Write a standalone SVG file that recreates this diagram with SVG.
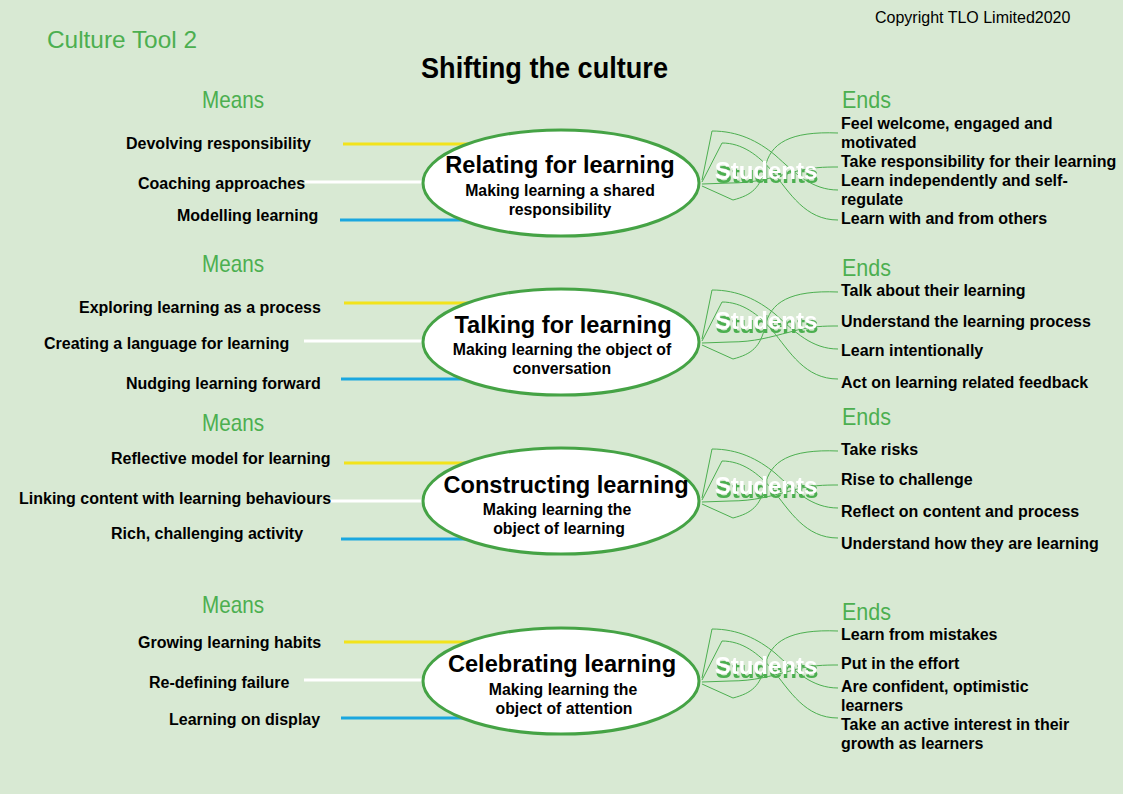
<svg xmlns="http://www.w3.org/2000/svg" width="1123" height="794" viewBox="0 0 1123 794">
<defs>
<style>
.bg{fill:#d8e9d3}
.lbl{font-family:"Liberation Sans",Arial,sans-serif;font-weight:bold;font-size:16px;fill:#000}
.grn{font-family:"Liberation Sans",Arial,sans-serif;font-size:24px;fill:#4caf50}
.ttl{font-family:"Liberation Sans",Arial,sans-serif;font-weight:bold;font-size:23.6px;fill:#000;text-anchor:middle}
.sub{font-family:"Liberation Sans",Arial,sans-serif;font-weight:bold;font-size:15.8px;fill:#000;text-anchor:middle}
.ell{fill:#fff;stroke:#45a345;stroke-width:3}
.yl{stroke:#f2e31b;stroke-width:3}
.wl{stroke:#ffffff;stroke-width:3}
.bl{stroke:#1aa7df;stroke-width:3}
.cv{fill:none;stroke:#4caf50;stroke-width:1}
.stu{font-family:"Liberation Sans",Arial,sans-serif;font-weight:bold;font-size:24px;text-anchor:middle;fill:#fff;filter:url(#sh)}
</style>
<filter id="sh" x="-10%" y="-20%" width="130%" height="160%">
<feDropShadow dx="1" dy="4" stdDeviation="0.3" flood-color="#4caf50" flood-opacity="1"/>
</filter>
<g id="curves">
<path class="cv" d="M702,-3 L712,-52 C738,-52 758,-42 775,-28 C795,-10 812,7 838,7"/>
<path class="cv" d="M702,-1 L722,-40 C742,-40 758,-28 772,-12 C790,10 805,37 838,37"/>
<path class="cv" d="M702,1 L730,0 C755,0 770,-5 790,-10 C810,-16 825,-16 838,-16"/>
<path class="cv" d="M702,3 L733,17 C752,12 760,5 765,-15 C770,-40 790,-52 838,-50"/>
</g>
</defs>
<rect class="bg" x="0" y="0" width="1123" height="794"/>

<g id="header">
<text class="grn" x="47" y="48" textLength="150" lengthAdjust="spacingAndGlyphs">Culture Tool 2</text>
<text x="421" y="78" font-family="Liberation Sans, Arial, sans-serif" font-weight="bold" font-size="29" textLength="247" lengthAdjust="spacingAndGlyphs">Shifting the culture</text>
<text x="875" y="23" font-family="Liberation Sans, Arial, sans-serif" font-size="16" fill="#000">Copyright TLO Limited2020</text>
</g>

<g id="connectors">
<line class="yl" x1="343" y1="144" x2="500" y2="144"/>
<line class="wl" x1="305" y1="182" x2="480" y2="182"/>
<line class="bl" x1="340" y1="220" x2="500" y2="220"/>
<line class="yl" x1="344" y1="303" x2="500" y2="303"/>
<line class="wl" x1="304" y1="341" x2="480" y2="341"/>
<line class="bl" x1="341" y1="379" x2="500" y2="379"/>
<line class="yl" x1="344" y1="463" x2="500" y2="463"/>
<line class="wl" x1="330" y1="501" x2="480" y2="501"/>
<line class="bl" x1="341" y1="539" x2="500" y2="539"/>
<line class="yl" x1="344" y1="642" x2="500" y2="642"/>
<line class="wl" x1="304" y1="680" x2="480" y2="680"/>
<line class="bl" x1="341" y1="718" x2="500" y2="718"/>
<use href="#curves" transform="translate(0,183)"/>
<use href="#curves" transform="translate(0,342)"/>
<use href="#curves" transform="translate(0,501)"/>
<use href="#curves" transform="translate(0,681)"/>
</g>

<g id="node-relating">
<ellipse class="ell" cx="561" cy="183" rx="138" ry="53"/>
<text class="ttl" x="560" y="173">Relating for learning</text>
<text class="sub" x="560" y="196">Making learning a shared</text>
<text class="sub" x="560" y="215">responsibility</text>
</g>
<g id="node-talking">
<ellipse class="ell" cx="561" cy="342" rx="138" ry="53"/>
<text class="ttl" x="563" y="333">Talking for learning</text>
<text class="sub" x="562" y="355">Making learning the object of</text>
<text class="sub" x="562" y="374">conversation</text>
</g>
<g id="node-constructing">
<ellipse class="ell" cx="561" cy="501" rx="138" ry="53"/>
<text class="ttl" x="566" y="493">Constructing learning</text>
<text class="sub" x="557" y="515">Making learning the</text>
<text class="sub" x="559" y="534">object of learning</text>
</g>
<g id="node-celebrating">
<ellipse class="ell" cx="561" cy="681" rx="138" ry="53"/>
<text class="ttl" x="562" y="672">Celebrating learning</text>
<text class="sub" x="563" y="695">Making learning the</text>
<text class="sub" x="564" y="714">object of attention</text>
</g>

<g id="students-1"><text class="stu" x="766" y="179">Students</text></g>
<g id="students-2"><text class="stu" x="766" y="329">Students</text></g>
<g id="students-3"><text class="stu" x="766" y="494">Students</text></g>
<g id="students-4"><text class="stu" x="766" y="674">Students</text></g>

<g id="means-1">
<text class="grn" x="202" y="108" textLength="62" lengthAdjust="spacingAndGlyphs">Means</text>
<text class="lbl" x="126" y="149">Devolving responsibility</text>
<text class="lbl" x="138" y="189">Coaching approaches</text>
<text class="lbl" x="177" y="221">Modelling learning</text>
</g>
<g id="means-2">
<text class="grn" x="202" y="272" textLength="62" lengthAdjust="spacingAndGlyphs">Means</text>
<text class="lbl" x="79" y="313">Exploring learning as a process</text>
<text class="lbl" x="44" y="349">Creating a language for learning</text>
<text class="lbl" x="126" y="389">Nudging learning forward</text>
</g>
<g id="means-3">
<text class="grn" x="202" y="431" textLength="62" lengthAdjust="spacingAndGlyphs">Means</text>
<text class="lbl" x="111" y="464">Reflective model for learning</text>
<text class="lbl" x="19" y="504">Linking content with learning behaviours</text>
<text class="lbl" x="111" y="539">Rich, challenging activity</text>
</g>
<g id="means-4">
<text class="grn" x="202" y="613" textLength="62" lengthAdjust="spacingAndGlyphs">Means</text>
<text class="lbl" x="138" y="648">Growing learning habits</text>
<text class="lbl" x="149" y="688">Re-defining failure</text>
<text class="lbl" x="169" y="725">Learning on display</text>
</g>

<g id="ends-1">
<text class="grn" x="842" y="108" textLength="49" lengthAdjust="spacingAndGlyphs">Ends</text>
<text class="lbl" x="841" y="129">Feel welcome, engaged and</text>
<text class="lbl" x="841" y="148">motivated</text>
<text class="lbl" x="841" y="167">Take responsibility for their learning</text>
<text class="lbl" x="841" y="186">Learn independently and self-</text>
<text class="lbl" x="841" y="205">regulate</text>
<text class="lbl" x="841" y="224">Learn with and from others</text>
</g>
<g id="ends-2">
<text class="grn" x="842" y="276" textLength="49" lengthAdjust="spacingAndGlyphs">Ends</text>
<text class="lbl" x="841" y="296">Talk about their learning</text>
<text class="lbl" x="841" y="327">Understand the learning process</text>
<text class="lbl" x="841" y="356">Learn intentionally</text>
<text class="lbl" x="841" y="388">Act on learning related feedback</text>
</g>
<g id="ends-3">
<text class="grn" x="842" y="425" textLength="49" lengthAdjust="spacingAndGlyphs">Ends</text>
<text class="lbl" x="841" y="455">Take risks</text>
<text class="lbl" x="841" y="485">Rise to challenge</text>
<text class="lbl" x="841" y="517">Reflect on content and process</text>
<text class="lbl" x="841" y="549">Understand how they are learning</text>
</g>
<g id="ends-4">
<text class="grn" x="842" y="620" textLength="49" lengthAdjust="spacingAndGlyphs">Ends</text>
<text class="lbl" x="841" y="640">Learn from mistakes</text>
<text class="lbl" x="841" y="669">Put in the effort</text>
<text class="lbl" x="841" y="692">Are confident, optimistic</text>
<text class="lbl" x="841" y="711">learners</text>
<text class="lbl" x="841" y="730">Take an active interest in their</text>
<text class="lbl" x="841" y="749">growth as learners</text>
</g>
</svg>
